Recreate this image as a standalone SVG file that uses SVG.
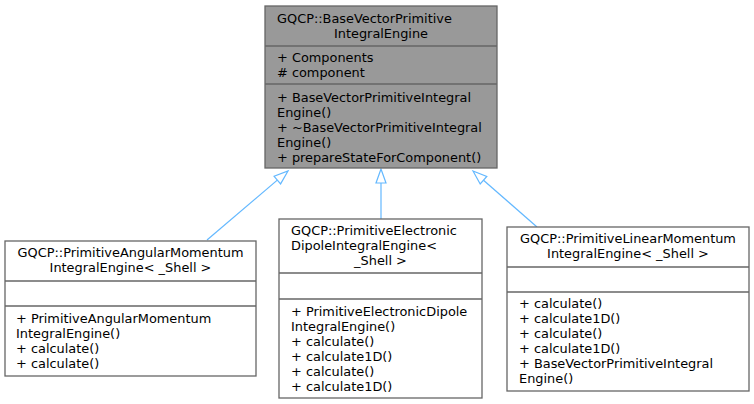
<svg xmlns="http://www.w3.org/2000/svg" width="754" height="404" viewBox="0 0 754 404">
<style>
.box{fill:#ffffff;stroke:#666666;stroke-width:1.3}
.base{fill:#999999;stroke:#666666;stroke-width:1.3}
.sep{stroke:#666666;stroke-width:1.3}
text{font-family:"DejaVu Sans",sans-serif;font-size:12.9px;fill:#000000}
.c{text-anchor:middle}
.edge{stroke:#63b8ff;stroke-width:1.2;fill:none}
.head{fill:#ffffff;stroke:#63b8ff;stroke-width:1.2}
</style>
<rect width="754" height="404" fill="#ffffff"/>
<g id="connectors">
<path class="edge" d="M207,240 L277.3,180.1"/>
<polygon class="head" points="288,171 280.6,183.9 274.1,176.3"/>
<path class="edge" d="M381,219 L381,183"/>
<polygon class="head" points="381,169 376,183 386,183"/>
<path class="edge" d="M537,227 L483.5,180.2"/>
<polygon class="head" points="473,171 486.8,176.5 480.2,184"/>
</g>
<g id="node-base">
<rect class="base" x="265" y="6" width="232" height="162"/>
<line class="sep" x1="265" y1="46" x2="497" y2="46"/>
<line class="sep" x1="265" y1="84" x2="497" y2="84"/>
<text x="277" y="22.5">GQCP::BaseVectorPrimitive</text>
<text class="c" x="381" y="37.5">IntegralEngine</text>
<text x="277" y="62">+ Components</text>
<text x="277" y="77"># component</text>
<text x="277" y="101.5">+ BaseVectorPrimitiveIntegral</text>
<text x="277" y="116.5">Engine()</text>
<text x="277" y="131.5">+ ~BaseVectorPrimitiveIntegral</text>
<text x="277" y="146.5">Engine()</text>
<text x="277" y="161.5">+ prepareStateForComponent()</text>
</g>
<g id="node-angular">
<rect class="box" x="5" y="241" width="251" height="135"/>
<line class="sep" x1="5" y1="281" x2="256" y2="281"/>
<line class="sep" x1="5" y1="306" x2="256" y2="306"/>
<text class="c" x="130.5" y="256.5">GQCP::PrimitiveAngularMomentum</text>
<text class="c" x="130.5" y="271.5">IntegralEngine&lt; _Shell &gt;</text>
<text x="16" y="322.5">+ PrimitiveAngularMomentum</text>
<text x="16" y="337.5">IntegralEngine()</text>
<text x="16" y="352.5">+ calculate()</text>
<text x="16" y="367.5">+ calculate()</text>
</g>
<g id="node-dipole">
<rect class="box" x="279" y="219" width="203" height="179"/>
<line class="sep" x1="279" y1="273" x2="482" y2="273"/>
<line class="sep" x1="279" y1="299" x2="482" y2="299"/>
<text x="291" y="235">GQCP::PrimitiveElectronic</text>
<text x="291" y="250">DipoleIntegralEngine&lt;</text>
<text class="c" x="380.5" y="265">_Shell &gt;</text>
<text x="291" y="316">+ PrimitiveElectronicDipole</text>
<text x="291" y="331">IntegralEngine()</text>
<text x="291" y="346">+ calculate()</text>
<text x="291" y="361">+ calculate1D()</text>
<text x="291" y="376">+ calculate()</text>
<text x="291" y="391">+ calculate1D()</text>
</g>
<g id="node-linear">
<rect class="box" x="507" y="227" width="242" height="164"/>
<line class="sep" x1="507" y1="267" x2="749" y2="267"/>
<line class="sep" x1="507" y1="292" x2="749" y2="292"/>
<text class="c" x="628" y="243">GQCP::PrimitiveLinearMomentum</text>
<text class="c" x="628" y="258">IntegralEngine&lt; _Shell &gt;</text>
<text x="519" y="307.5">+ calculate()</text>
<text x="519" y="322.5">+ calculate1D()</text>
<text x="519" y="337.5">+ calculate()</text>
<text x="519" y="352.5">+ calculate1D()</text>
<text x="519" y="367.5">+ BaseVectorPrimitiveIntegral</text>
<text x="519" y="382.5">Engine()</text>
</g>
</svg>
